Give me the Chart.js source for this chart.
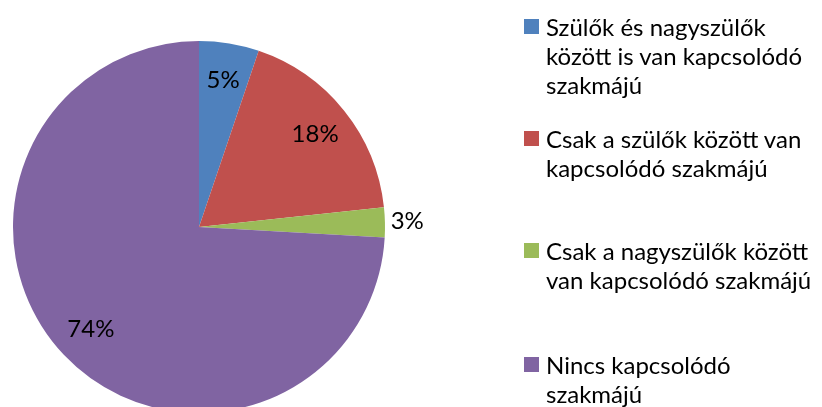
<!DOCTYPE html>
<html>
<head>
<meta charset="utf-8">
<script src="https://cdn.jsdelivr.net/npm/chart.js@4/dist/chart.umd.min.js"></script>
<style>
  html, body { margin: 0; padding: 0; background: #fff; overflow: hidden; }
  #wrap { position: relative; width: 822px; height: 407px; overflow: hidden; }
  #box { position: absolute; left: 0; top: 0; width: 822px; height: 414px; }
  #legend { position: absolute; left: 0; top: 0; }
  .item { position: absolute; left: 524px; font-family: Lato, "Open Sans", sans-serif; font-size: 24px; line-height: 29px; color: #000; white-space: nowrap; }
  .item .sw { position: absolute; left: 0; top: 7px; width: 15px; height: 15px; }
  .item .tx { position: absolute; left: 22px; top: 0; }
</style>
</head>
<body>
<div id="wrap">
  <div id="box"><canvas id="pieChart"></canvas></div>
  <div id="legend"></div>
</div>
<script>
// kategorier (radbrytningar som i originalet)
const labelLines = [
  ["Szülők és nagyszülők", "között is van kapcsolódó", "szakmájú"],
  ["Csak a szülők között van", "kapcsolódó szakmájú"],
  ["Csak a nagyszülők között", "van kapcsolódó szakmájú"],
  ["Nincs kapcsolódó", "szakmájú"]
];
const values = [5.2, 18.1, 2.6, 74.1];
const shownPct = ["5%", "18%", "3%", "74%"];
const colors = ["#4F81BD", "#C0504D", "#9BBB59", "#8064A2"];
const legendTops = [12, 124, 236, 350];

// procentetiketter på/utanför sektorerna
const pctLabels = {
  id: "pctLabels",
  afterDatasetsDraw(chart) {
    const ctx = chart.ctx;
    const meta = chart.getDatasetMeta(0);
    ctx.save();
    ctx.font = "24px Lato, 'Open Sans', sans-serif";
    ctx.fillStyle = "#000";
    ctx.textAlign = "center";
    ctx.textBaseline = "middle";
    meta.data.forEach((arc, i) => {
      const p = arc.getProps(["x", "y", "startAngle", "endAngle", "outerRadius"], true);
      const mid = (p.startAngle + p.endAngle) / 2;
      const f = values[i] < 4 ? 1.12 : 0.8;
      const x = p.x + Math.cos(mid) * p.outerRadius * f;
      const y = p.y + Math.sin(mid) * p.outerRadius * f;
      ctx.fillText(shownPct[i], x, y);
    });
    ctx.restore();
  }
};

new Chart(document.getElementById("pieChart"), {
  type: "pie",
  data: {
    labels: labelLines.map(l => l.join(" ")),
    datasets: [{
      data: values,
      backgroundColor: colors,
      borderWidth: 0
    }]
  },
  options: {
    responsive: true,
    maintainAspectRatio: false,
    animation: false,
    layout: { padding: { left: 13, top: 41, right: 437, bottom: 1 } },
    plugins: {
      legend: { display: false },
      tooltip: { enabled: false }
    }
  },
  plugins: [pctLabels]
});

// --- Legend ---
const legend = document.getElementById("legend");
labelLines.forEach((lines, i) => {
  const item = document.createElement("div");
  item.className = "item";
  item.style.top = legendTops[i] + "px";
  const sw = document.createElement("div");
  sw.className = "sw";
  sw.style.background = colors[i];
  const tx = document.createElement("div");
  tx.className = "tx";
  tx.innerHTML = lines.join("<br>");
  item.appendChild(sw);
  item.appendChild(tx);
  legend.appendChild(item);
});
</script>
</body>
</html>
